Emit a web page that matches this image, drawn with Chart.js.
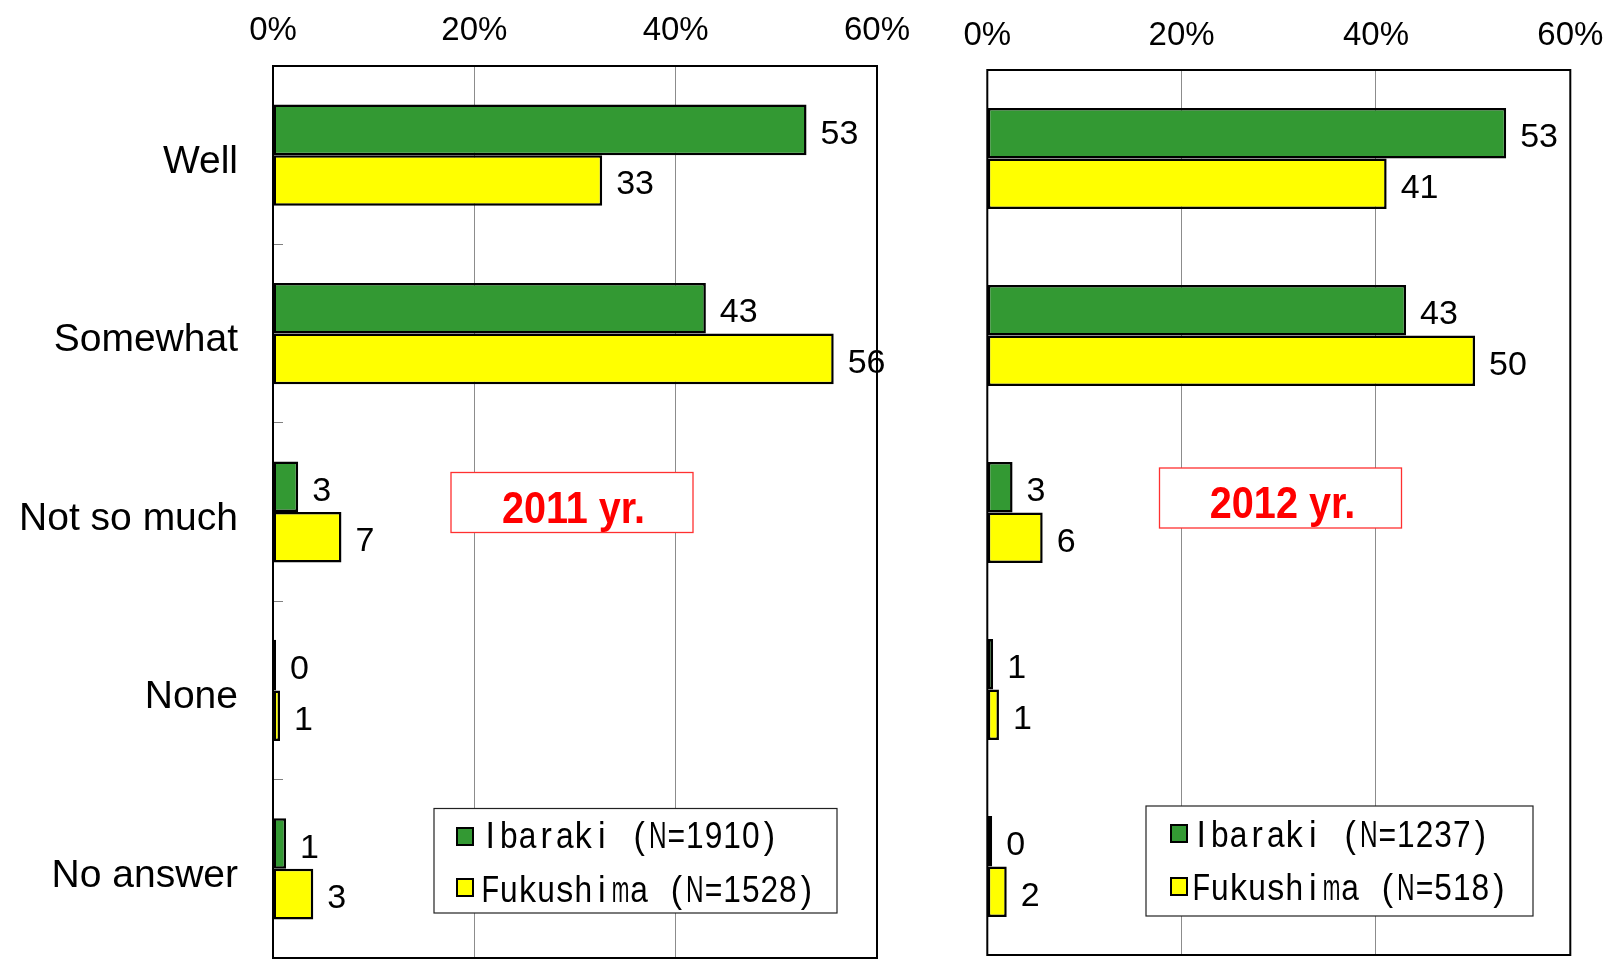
<!DOCTYPE html>
<html><head><meta charset="utf-8">
<script src="https://cdn.jsdelivr.net/npm/chart.js@4.4.1/dist/chart.umd.min.js"></script>
<style>
html,body{margin:0;padding:0;background:#fff;}
#wrap{position:relative;width:1613px;height:959px;overflow:hidden;background:#fff;}
canvas{position:absolute;left:0;top:0;}
</style></head><body>
<div id="wrap"><canvas id="c2011" width="1613" height="959"></canvas><canvas id="c2012" width="1613" height="959"></canvas></div>
<script>
// ---- data ----
const categories = ['Well', 'Somewhat', 'Not so much', 'None', 'No answer'];
const xTickLabels = ['0%', '20%', '40%', '60%'];
const seriesNames2011 = ['Ibaraki (N=1910)', 'Fukushima (N=1528)'];
const seriesNames2012 = ['Ibaraki (N=1237)', 'Fukushima (N=518)'];
const ibaraki2011 = [53.0, 43.0, 2.5, 0.3, 1.3];
const fukushima2011 = [32.7, 55.7, 6.8, 0.7, 4.0];
const ibaraki2012 = [53.4, 43.1, 2.6, 0.6, 0.5];
const fukushima2012 = [41.1, 50.2, 5.7, 1.2, 2.0];
const ibarakiLabels2011 = ['53', '43', '3', '0', '1'];
const fukushimaLabels2011 = ['33', '56', '7', '1', '3'];
const ibarakiLabels2012 = ['53', '43', '3', '1', '0'];
const fukushimaLabels2012 = ['41', '50', '6', '1', '2'];
const yearTitles = ['2011 yr.', '2012 yr.'];

// ---- style ----
const GREEN = '#339933';
const YELLOW = '#FFFF00';
const SANS = '"Liberation Sans", Arial, sans-serif';

function drawScaledText(ctx, text, x, baseline, font, sx, align, color) {
  ctx.save();
  ctx.font = font;
  ctx.fillStyle = color;
  ctx.textBaseline = 'alphabetic';
  ctx.textAlign = align;
  ctx.translate(x, baseline);
  ctx.scale(sx, 1);
  ctx.fillText(text, 0, 0);
  ctx.restore();
}

function drawMono(ctx, text, x0, baseline, pitch, size) {
  ctx.save();
  ctx.font = size + 'px ' + SANS;
  ctx.fillStyle = '#000';
  ctx.textAlign = 'center';
  ctx.textBaseline = 'alphabetic';
  for (let i = 0; i < text.length; i++) {
    const ch = text[i];
    if (ch === ' ') continue;
    const w = ctx.measureText(ch).width;
    const sx = Math.min(0.92, (pitch - 1) / w);
    ctx.save();
    ctx.translate(x0 + (i + 0.5) * pitch, baseline);
    ctx.scale(sx, 1);
    ctx.fillText(ch, 0, 0);
    ctx.restore();
  }
  ctx.restore();
}

function makeChart(id, cfg) {
  const extras = {
    id: 'extras' + id,
    beforeDatasetsDraw(chart) {
      const ctx = chart.ctx, a = chart.chartArea;
      ctx.save();
      ctx.strokeStyle = '#000';
      ctx.lineWidth = 2;
      ctx.strokeRect(a.left, a.top, a.right - a.left, a.bottom - a.top);
      ctx.restore();
    },
    afterDatasetsDraw(chart) {
      const ctx = chart.ctx;
      const labelSets = [cfg.ibLabels, cfg.fkLabels];
      chart.data.datasets.forEach((ds, di) => {
        const meta = chart.getDatasetMeta(di);
        meta.data.forEach((el, i) => {
          drawScaledText(ctx, labelSets[di][i], el.x + 14, el.y + 14,
            '34px ' + SANS, 1, 'left', '#000');
        });
      });
    },
    afterDraw(chart) {
      const ctx = chart.ctx;
      // year box
      const b = cfg.yearBox;
      ctx.save();
      ctx.fillStyle = '#fff';
      ctx.fillRect(b.x, b.y, b.w, b.h);
      ctx.strokeStyle = '#ff3030';
      ctx.lineWidth = 1.3;
      ctx.strokeRect(b.x, b.y, b.w, b.h);
      ctx.restore();
      drawScaledText(ctx, cfg.year, b.tx, b.tb, 'bold 44px ' + SANS, 0.9, 'center', '#ff0000');
      // legend
      const L = cfg.legend;
      ctx.save();
      ctx.fillStyle = '#fff';
      ctx.fillRect(L.x, L.y, L.w, L.h);
      ctx.strokeStyle = '#222';
      ctx.lineWidth = 1.2;
      ctx.strokeRect(L.x, L.y, L.w, L.h);
      chart.data.datasets.forEach((ds, di) => {
        const sy = L.swY[di];
        ctx.fillStyle = ds.backgroundColor;
        ctx.fillRect(L.swX, sy, 16, 17);
        ctx.strokeStyle = '#000';
        ctx.lineWidth = 2;
        ctx.strokeRect(L.swX, sy, 16, 17);
        drawMono(ctx, ds.label, L.textX, L.base[di], 18.6, 37);
      });
      ctx.restore();
    }
  };

  return new Chart(document.getElementById(id), {
    type: 'bar',
    data: {
      labels: categories,
      datasets: [
        { label: cfg.names[0], data: cfg.ib, backgroundColor: GREEN, borderColor: '#000', borderWidth: 2.5, borderSkipped: false },
        { label: cfg.names[1], data: cfg.fk, backgroundColor: YELLOW, borderColor: '#000', borderWidth: 2.5, borderSkipped: false }
      ]
    },
    options: {
      indexAxis: 'y',
      responsive: false,
      animation: false,
      events: [],
      layout: { padding: { left: 0, right: cfg.padRight, top: 0, bottom: cfg.padBottom } },
      plugins: { legend: { display: false }, tooltip: { enabled: false } },
      datasets: { bar: { categoryPercentage: cfg.catPct, barPercentage: 1 } },
      scales: {
        x: {
          position: 'top', min: 0, max: 60,
          ticks: {
            stepSize: 20, padding: cfg.xTickPad, color: '#000',
            font: { family: SANS, size: 33, lineHeight: 1 },
            maxRotation: 0, autoSkip: false,
            callback: (v, i) => xTickLabels[i]
          },
          grid: { color: '#8c8c8c', lineWidth: 1, drawTicks: false },
          border: { display: false },
          afterFit: s => { s.height = cfg.top; s.paddingLeft = 0; s.paddingRight = 0; }
        },
        y: {
          position: 'left',
          ticks: {
            display: cfg.showCats, padding: 45, color: '#000', labelOffset: 7,
            font: { family: SANS, size: 39, lineHeight: 1 }
          },
          grid: { display: cfg.showCats, drawOnChartArea: false, drawTicks: true, tickLength: -10, color: '#808080', lineWidth: 1 },
          border: { display: false },
          afterFit: s => { s.width = cfg.left; s.paddingTop = 0; s.paddingBottom = 0; }
        }
      }
    },
    plugins: [extras]
  });
}

makeChart('c2011', {
  names: seriesNames2011, ib: ibaraki2011, fk: fukushima2011,
  ibLabels: ibarakiLabels2011, fkLabels: fukushimaLabels2011, year: yearTitles[0],
  left: 273, top: 66, padRight: 1613 - 877, padBottom: 1, catPct: 0.567, xTickPad: 19,
  showCats: true,
  yearBox: { x: 451, y: 472.5, w: 242, h: 60, tx: 573.5, tb: 522.5 },
  legend: { x: 434, y: 808.5, w: 403, h: 104.5, swX: 457, swY: [828, 879], textX: 481, base: [848, 901.5] }
});

makeChart('c2012', {
  names: seriesNames2012, ib: ibaraki2012, fk: fukushima2012,
  ibLabels: ibarakiLabels2012, fkLabels: fukushimaLabels2012, year: yearTitles[1],
  left: 987.3, top: 70, padRight: 1613 - 1570.3, padBottom: 4, catPct: 0.571, xTickPad: 18,
  showCats: false,
  yearBox: { x: 1159.5, y: 468, w: 242, h: 60, tx: 1282.5, tb: 517.7 },
  legend: { x: 1146, y: 806, w: 387, h: 110, swX: 1171, swY: [825, 878], textX: 1192, base: [846.5, 900] }
});
</script>
</body></html>
